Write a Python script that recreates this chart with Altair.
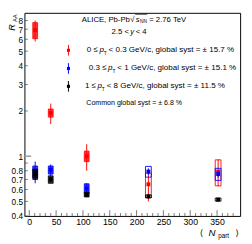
import altair as alt
import pandas as pd

# ---------------- data ----------------
npart = [11, 40, 107, 222, 352]
series = ["0 ≤ pT < 0.3", "0.3 ≤ pT < 1", "1 ≤ pT < 8"]
colors = ["#ff0000", "#0000ff", "#000000"]

red_val = [6.9, 1.94, 1.0, 0.65, 0.79]
red_stat = [1.1, 0.30, 0.20, 0.15, 0.16]
red_syst = [0.85, 0.12, 0.08, 0.12, 0.155]

blue_val = [0.79, 0.81, 0.61, 0.79, 0.76]
blue_stat = [0.13, 0.07, 0.05, 0.04, 0.04]
blue_syst = [0.07, 0.05, 0.045, 0.065, 0.07]

black_val = [0.76, 0.70, 0.555, 0.54, 0.514]
black_stat = [0.05, 0.03, 0.02, 0.01, 0.01]
black_syst = [0.06, 0.04, 0.02, 0.012, 0.012]

open_box = [False, False, False, True, True]

y_labels = [0.4, 0.5, 0.6, 0.7, 0.8, 1, 2, 3, 4, 5, 6, 7, 8]
y_minor = [0.4, 0.5, 0.6, 0.7, 0.8, 0.9, 2, 3, 4, 5, 6, 7, 8]
y_major = [1]
x_labels = [0, 50, 100, 150, 200, 250, 300, 350]
x_minor = [v for v in range(10, 390, 10) if v % 50 != 0]

W, H = 223, 210
FONT = "Liberation Sans"

rows = []
for name, col, vals, stats, systs in [
    (series[0], colors[0], red_val, red_stat, red_syst),
    (series[1], colors[1], blue_val, blue_stat, blue_syst),
    (series[2], colors[2], black_val, black_stat, black_syst),
]:
    for n, v, s, sy, ob in zip(npart, vals, stats, systs, open_box):
        rows.append(dict(series=name, color=col, npart=n, val=v,
                         slo=v - s, shi=v + s, ylo=v - sy, yhi=v + sy, open=ob))
df = pd.DataFrame(rows)

xs = alt.Scale(domain=[0, 384], nice=False, zero=False)
ys = alt.Scale(type="log", domain=[0.4, 9], nice=False)
XAX = alt.Axis(values=x_labels, ticks=False, domain=False, grid=False, title=None,
               labelFont=FONT, labelFontSize=9, labelPadding=2,
               labelColor="black", labelFlush=False)
YAX = alt.Axis(values=y_labels, ticks=False, domain=False, grid=False, title=None,
               format=".1~f", labelFont=FONT, labelFontSize=8.5,
               labelPadding=2, labelColor="black")


def X(f):
    return alt.X(f, scale=xs, axis=XAX)


def Y(f):
    return alt.Y(f, scale=ys, axis=YAX)


layers = []
for name, col in zip(series, colors):
    d = df[df.series == name]
    base = alt.Chart(d)
    stat = base.mark_rule(color=col, strokeWidth=1).encode(
        x=X("npart:Q"), y=Y("slo:Q"), y2="shi:Q")
    boxf = alt.Chart(d[~d.open]).mark_bar(size=5, color=col, fillOpacity=0.8,
                                          stroke=col, strokeWidth=0.8).encode(
        x=X("npart:Q"), y=Y("ylo:Q"), y2="yhi:Q")
    boxo = alt.Chart(d[d.open]).mark_bar(size=6, fill=None, fillOpacity=0,
                                         stroke=col, strokeWidth=0.9).encode(
        x=X("npart:Q"), y=Y("ylo:Q"), y2="yhi:Q")
    mk = base.mark_square(size=16, color=col, opacity=1).encode(
        x=X("npart:Q"), y=Y("val:Q"))
    layers += [stat, boxf, boxo, mk]

ytick_minor = alt.Chart(pd.DataFrame({"v": y_minor})).mark_rule(color="#555", strokeWidth=0.8).encode(
    y=Y("v:Q"), x=alt.value(0), x2=alt.value(3.5))
ytick_major = alt.Chart(pd.DataFrame({"v": y_major})).mark_rule(color="#999", strokeWidth=1.5).encode(
    y=Y("v:Q"), x=alt.value(0), x2=alt.value(7))
xtick_major = alt.Chart(pd.DataFrame({"v": x_labels})).mark_rule(color="#555", strokeWidth=0.8).encode(
    x=X("v:Q"), y=alt.value(H), y2=alt.value(H - 6))
xtick_minor = alt.Chart(pd.DataFrame({"v": x_minor})).mark_rule(color="#555", strokeWidth=0.8).encode(
    x=X("v:Q"), y=alt.value(H), y2=alt.value(H - 3))


def txt(t, x, y, size=8, align="left", style="normal", angle=0, font=FONT, baseline="middle"):
    # x, y given in page pixels; convert to plot coordinates
    return alt.Chart(pd.DataFrame({"t": [t]})).mark_text(
        align=align, baseline=baseline, fontSize=size, fontStyle=style, font=font,
        angle=angle, color="black").encode(
        text="t:N", x=alt.value(x - 25), y=alt.value(y - 9))


def glyph(col, x, y, lo, hi):
    g = pd.DataFrame({"a": [0]})
    line = alt.Chart(g).mark_rule(color=col, strokeWidth=1).encode(
        x=alt.value(x - 25), y=alt.value(lo - 9), y2=alt.value(hi - 9))
    sq = alt.Chart(g).mark_square(size=10, color=col, opacity=1).encode(
        x=alt.value(x - 25), y=alt.value(y - 9))
    return [line, sq]


texts = []
# header
texts += [txt("ALICE, Pb-Pb", 134, 16, align="right"),
          txt("√", 134.5, 16),
          txt("s", 140, 16, style="italic"),
          txt("NN", 144.5, 18, size=5),
          txt("= 2.76 TeV", 154, 16)]
over = alt.Chart(pd.DataFrame({"a": [0]})).mark_rule(color="black", strokeWidth=0.7).encode(
    x=alt.value(139.5 - 25), x2=alt.value(152 - 25), y=alt.value(10.5 - 9))
texts += [txt("2.5 <", 133, 28.5, align="right"),
          txt("y", 134.5, 28.5, style="italic"),
          txt("< 4", 140, 28.5)]

legend_rows = [
    ("0 ≤", 101, "< 0.3 GeV/c, global syst = ± 15.7 %", 47.7, colors[0]),
    ("0.3 ≤", 110, "< 1 GeV/c, global syst = ± 15.1 %", 66.5, colors[1]),
    ("1 ≤", 99, "< 8 GeV/c, global syst = ± 11.5 %", 85, colors[2]),
]
glyphs = []
for pre, px, post, y, col in legend_rows:
    texts += [txt(pre, px, y, align="right", size=8.3),
              txt("p", px + 1.5, y, style="italic", size=8.3),
              txt("T", px + 6, y + 2.5, size=5),
              txt(post, px + 11, y, size=8.3)]
    glyphs += glyph(col, 70.5, y, y - 5.5, y + 5.5)
texts += [txt("Common global syst = ± 6.8 %", 89, 102, size=7.3)]

# axis titles
texts += [txt("R", 12.5, 24, size=9.5, style="italic", angle=270, align="center"),
          txt("AA", 15.5, 14.5, size=6, angle=270, align="center"),
          txt("⟨", 208, 237, size=9, font="DejaVu Sans", align="center"),
          txt("N", 219, 237, size=10, style="italic", align="center"),
          txt("part", 231, 240, size=6.5, align="center"),
          txt("⟩", 245, 237, size=9, font="DejaVu Sans", align="center")]

chart = alt.layer(ytick_minor, ytick_major, xtick_major, xtick_minor,
                  *layers, over, *glyphs, *texts).properties(
    width=W, height=H,
    autosize=alt.AutoSizeParams(type="none"),
    padding={"left": 17, "top": 1, "right": 4, "bottom": 25},
).configure_view(stroke="black", strokeWidth=1).configure_axis(grid=False)

chart.save("out.html", embed_options={"renderer": "svg", "actions": False})
